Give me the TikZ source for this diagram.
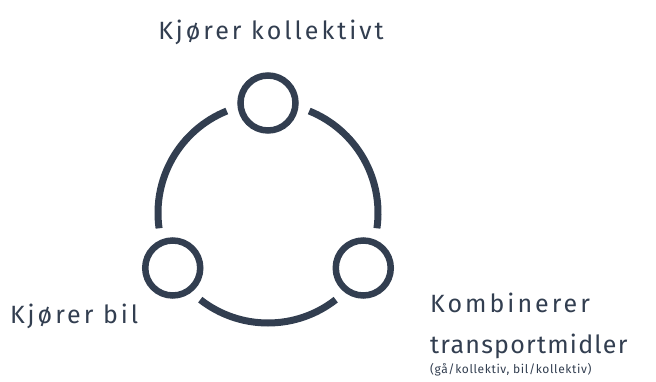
\documentclass[tikz,border=0pt]{standalone}
\usepackage{fontspec}
\setmainfont{Fira Sans}[LetterSpace=12]
\definecolor{slate}{HTML}{323E50}
\tikzset{
  ring/.style={draw=slate,line width=7pt},
  hub/.style={circle,draw=slate,line width=6.5pt,minimum size=55pt,inner sep=0pt},
  lbl/.style={text=slate,inner sep=0pt,font=\fontsize{25}{25}\selectfont},
  sublbl/.style={text=slate,inner sep=0pt,font=\fontsize{12}{12}\selectfont\addfontfeature{LetterSpace=5}}
}
\begin{document}
\begin{tikzpicture}[x=1pt,y=1pt]
\useasboundingbox (0,0) rectangle (656,381);
%\draw[step=50,gray,very thin] (0,0) grid (656,381); %background grid
\coordinate (ctr) at (268,168);
\node[hub] (top)   at ([shift={(90:110)}]ctr) {};  %top
\node[hub] (left)  at ([shift={(210:110)}]ctr) {}; %left
\node[hub] (right) at ([shift={(330:110)}]ctr) {}; %right
\draw[ring] ([shift={(112:110)}]ctr) arc[start angle=112,end angle=188,radius=110]; %top-left
\draw[ring] ([shift={(232:110)}]ctr) arc[start angle=232,end angle=308,radius=110]; %bottom
\draw[ring] ([shift={(-8:110)}]ctr) arc[start angle=-8,end angle=68,radius=110];    %top-right
\node[lbl,anchor=base] (kollektivt) at (271,341) {Kjører kollektivt};
\node[lbl,anchor=base west] (bil) at (10,58) {Kjører bil};
\node[lbl,anchor=base west] (kombinerer) at (430,69) {Kombinerer};
\node[lbl,anchor=base west] (transport) at (430,28) {\addfontfeature{LetterSpace=5}transportmidler};
\node[sublbl,anchor=base west] (eks) at (430,8) {(gå/kollektiv, bil/kollektiv)};
\end{tikzpicture}
\end{document}
